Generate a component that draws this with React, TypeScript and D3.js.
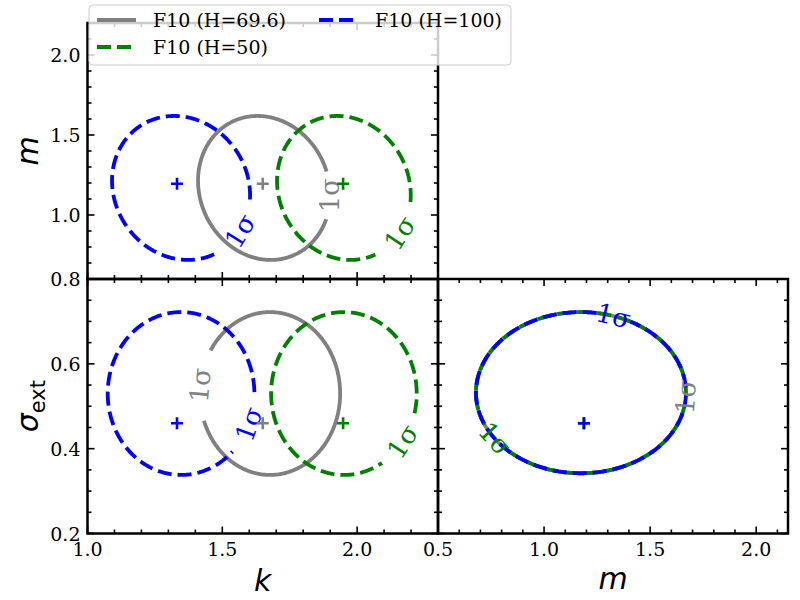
import React from 'react';
import * as d3 from 'd3';

// ---------- axis domains ----------
const kDomain = [1.0, 2.3];
const mDomainY = [0.6, 2.2];
const mDomainX = [0.5, 2.15];
const sDomain = [0.2, 0.8];

// ---------- series ----------
const seriesNames = ['F10 (H=69.6)', 'F10 (H=50)', 'F10 (H=100)'];
const seriesColors = ['#808080', 'green', 'blue'];
const seriesDashed = [false, true, true];

// best-fit markers
const bestK = [1.65, 1.948, 1.332];
const bestM = [1.195, 1.195, 1.195];
const bestS = [0.46, 0.46, 0.46];
const bestMx = [1.188, 1.188, 1.188];

// 1-sigma contours (centre, half-widths, correlation, label position angle in deg, label gap half-length)
const kmCk = [1.655, 1.951, 1.347];
const kmCm = [1.169, 1.169, 1.169];
const kmSk = [0.245, 0.248, 0.256];
const kmSm = [0.45, 0.45, 0.45];
const kmRho = [-0.1, -0.1, -0.1];
const kmLabT = [0, -33, -31];
const kmGap = [24, 33, 33];

const ksCk = [1.677, 1.951, 1.347];
const ksCs = [0.53, 0.53, 0.53];
const ksSk = [0.26, 0.27, 0.272];
const ksSs = [0.192, 0.192, 0.192];
const ksRho = [0.0, 0.0, 0.0];
const ksLabT = [174, -36, -22];
const ksGap = [36, 30, 32];

const msCm = [1.174, 1.174, 1.174];
const msCs = [0.532, 0.532, 0.532];
const msSm = [0.495, 0.495, 0.495];
const msSs = [0.19, 0.19, 0.19];
const msRho = [0.0, 0.0, 0.0];
const msLabT = [-3, 215, 72];
const msGap = [17, 17, 17];

const X0 = 87.5, X1 = 438, X2 = 788, Y0 = 23, Y1 = 279, Y2 = 533.5;

function tickVals(domain: number[], step: number) {
  const a = Math.ceil(domain[0] / step - 1e-6);
  const b = Math.floor(domain[1] / step + 1e-6);
  return d3.range(a, b + 1).map((i) => +(i * step).toFixed(4));
}

function contour(xs: any, ys: any, cx: number, cy: number, sx: number, sy: number, rho: number, labT: number, gap: number) {
  const n = 720;
  const pts: [number, number][] = d3.range(n).map((i) => {
    const t = (i / n) * 2 * Math.PI;
    const dx = sx * Math.cos(t);
    const dy = sy * (rho * Math.cos(t) + Math.sqrt(1 - rho * rho) * Math.sin(t));
    return [xs(cx + dx), ys(cy + dy)];
  });
  const li = Math.round(((((labT % 360) + 360) % 360) / 360) * n) % n;
  const seg: [number, number][] = [];
  let acc = 0;
  for (let j = 1; j < n; j++) {
    const p = pts[(li + j) % n], q = pts[(li + j - 1) % n];
    acc += Math.hypot(p[0] - q[0], p[1] - q[1]);
    seg.push([j, acc]);
  }
  const last = pts[(li + n - 1) % n];
  const total = acc + Math.hypot(pts[li][0] - last[0], pts[li][1] - last[1]);
  const keep = seg.filter(([, a]) => a > gap && total - a > gap).map(([j]) => pts[(li + j) % n]);
  const d = d3.line()(keep) || '';
  const p0 = pts[(li + n - 1) % n], p1 = pts[(li + 1) % n];
  let ang = (Math.atan2(p1[1] - p0[1], p1[0] - p0[0]) * 180) / Math.PI;
  if (ang > 90) ang -= 180;
  if (ang < -90) ang += 180;
  return { d, lx: pts[li][0], ly: pts[li][1], rot: ang };
}

const App = () => {
  const kScale = d3.scaleLinear().domain(kDomain).range([X0, X1]);
  const mScaleY = d3.scaleLinear().domain(mDomainY).range([Y1, Y0]);
  const sScale = d3.scaleLinear().domain(sDomain).range([Y2, Y1]);
  const mScaleX = d3.scaleLinear().domain(mDomainX).range([X1, X2]);

  const panels = [
    { id: 'km', x: kScale, y: mScaleY, xMaj: 0.5, xMin: 0.1, yMaj: 0.5, yMin: 0.1,
      cx: kmCk, cy: kmCm, sx: kmSk, sy: kmSm, rho: kmRho, lt: kmLabT, gap: kmGap, bx: bestK, by: bestM, xl: false, yl: true },
    { id: 'ks', x: kScale, y: sScale, xMaj: 0.5, xMin: 0.1, yMaj: 0.2, yMin: 0.05,
      cx: ksCk, cy: ksCs, sx: ksSk, sy: ksSs, rho: ksRho, lt: ksLabT, gap: ksGap, bx: bestK, by: bestS, xl: true, yl: true },
    { id: 'ms', x: mScaleX, y: sScale, xMaj: 0.5, xMin: 0.1, yMaj: 0.2, yMin: 0.05,
      cx: msCm, cy: msCs, sx: msSm, sy: msSs, rho: msRho, lt: msLabT, gap: msGap, bx: bestMx, by: bestS, xl: true, yl: false },
  ];

  const fmt = d3.format('.1f');
  const tickFont = 'DejaVu Serif';
  const MAJ = 7, MIN = 4;
  const lw = 3.8;
  const dash = '14 6';

  return (
    <svg width={800} height={600} style={{ position: 'absolute', left: 0, top: 0, background: 'white' }}>
      <rect x={0} y={0} width={800} height={600} fill="white" />
      <defs>
        {panels.map((p) => {
          const [xa, xb] = p.x.range();
          const [ya, yb] = p.y.range();
          return (
            <clipPath id={'clip-' + p.id} key={p.id}>
              <rect x={xa} y={yb} width={xb - xa} height={ya - yb} />
            </clipPath>
          );
        })}
      </defs>
      {panels.map((p) => {
        const [xa, xb] = p.x.range();
        const [ya, yb] = p.y.range();
        const xMinT = tickVals(p.x.domain(), p.xMin);
        const xMajT = tickVals(p.x.domain(), p.xMaj);
        const yMinT = tickVals(p.y.domain(), p.yMin);
        const yMajT = tickVals(p.y.domain(), p.yMaj);
        const isMaj = (v: number, step: number) => Math.abs(v / step - Math.round(v / step)) < 1e-6;
        const cs = [0, 1, 2].map((s) =>
          contour(p.x, p.y, p.cx[s], p.cy[s], p.sx[s], p.sy[s], p.rho[s], p.lt[s], p.gap[s]));
        return (
          <g key={p.id}>
            <g clipPath={`url(#clip-${p.id})`}>
              {cs.map((c, s) => (
                <path key={s} d={c.d} fill="none" stroke={seriesColors[s]} strokeWidth={lw}
                  strokeDasharray={seriesDashed[s] ? dash : undefined} />
              ))}
              {cs.map((c, s) => (
                <text key={'l' + s} x={0} y={0} transform={`translate(${c.lx},${c.ly}) rotate(${c.rot})`}
                  textAnchor="middle" dominantBaseline="central" fontFamily={tickFont} fontSize={26}
                  fill={seriesColors[s]}>1σ</text>
              ))}
              {[0, 1, 2].map((s) => {
                const mx = p.x(p.bx[s]), my = p.y(p.by[s]);
                return (
                  <path key={'m' + s} d={`M${mx - 6},${my}H${mx + 6}M${mx},${my - 6}V${my + 6}`}
                    stroke={seriesColors[s]} strokeWidth={2.6} fill="none" />
                );
              })}
            </g>
            {xMinT.map((v) => {
              const L = isMaj(v, p.xMaj) ? MAJ : MIN;
              const xx = p.x(v);
              return (
                <g key={'xt' + v}>
                  <line x1={xx} x2={xx} y1={ya} y2={ya - L} stroke="black" strokeWidth={1.6} />
                  <line x1={xx} x2={xx} y1={yb} y2={yb + L} stroke="black" strokeWidth={1.6} />
                </g>
              );
            })}
            {yMinT.map((v) => {
              const L = isMaj(v, p.yMaj) ? MAJ : MIN;
              const yy = p.y(v);
              return (
                <g key={'yt' + v}>
                  <line x1={xa} x2={xa + L} y1={yy} y2={yy} stroke="black" strokeWidth={1.6} />
                  <line x1={xb} x2={xb - L} y1={yy} y2={yy} stroke="black" strokeWidth={1.6} />
                </g>
              );
            })}
            <rect x={xa} y={yb} width={xb - xa} height={ya - yb} fill="none" stroke="black" strokeWidth={2.5} />
            {p.xl && xMajT.map((v) => (
              <text key={'xl' + v} x={p.x(v)} y={ya + 22} textAnchor="middle" fontFamily={tickFont} fontSize={19}>{fmt(v)}</text>
            ))}
            {p.yl && yMajT.map((v) => (
              <text key={'yl' + v} x={xa - 7} y={p.y(v)} textAnchor="end" dominantBaseline="central" fontFamily={tickFont} fontSize={19}>{fmt(v)}</text>
            ))}
          </g>
        );
      })}
      <text x={(X0 + X1) / 2} y={591} textAnchor="middle" fontFamily="DejaVu Sans" fontStyle="italic" fontSize={30}>k</text>
      <text x={(X1 + X2) / 2} y={589} textAnchor="middle" fontFamily="DejaVu Sans" fontStyle="italic" fontSize={30}>m</text>
      <text transform={`translate(38,${(Y0 + Y1) / 2}) rotate(-90)`} textAnchor="middle" fontFamily="DejaVu Sans" fontStyle="italic" fontSize={30}>m</text>
      <text transform={`translate(38,${(Y1 + Y2) / 2}) rotate(-90)`} textAnchor="middle" fontFamily="DejaVu Sans" fontSize={30}>
        <tspan fontStyle="italic">σ</tspan>
        <tspan fontSize={21} dy={7}>ext</tspan>
      </text>
      <g>
        <rect x={89} y={5} width={422} height={60} rx={4} fill="white" fillOpacity={0.8} stroke="#cccccc" strokeWidth={1} />
        {[0, 1, 2].map((s) => {
          const col = s < 2 ? 0 : 1;
          const row = s < 2 ? s : 0;
          const x0 = col === 0 ? 97 : 319;
          const yy = row === 0 ? 20 : 47;
          return (
            <g key={'lg' + s}>
              <line x1={x0} x2={x0 + 39} y1={yy} y2={yy} stroke={seriesColors[s]} strokeWidth={lw}
                strokeDasharray={seriesDashed[s] ? dash : undefined} />
              <text x={x0 + 56} y={yy} dominantBaseline="central" fontFamily={tickFont} fontSize={19}>{seriesNames[s]}</text>
            </g>
          );
        })}
      </g>
    </svg>
  );
};

export default App;
